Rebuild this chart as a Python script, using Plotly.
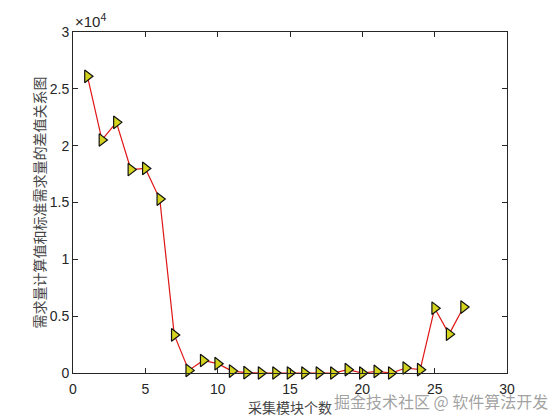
import plotly.graph_objects as go

modules = list(range(1, 28))
diff_values = [26100, 20500, 22050, 17900, 18000, 15300, 3350, 230, 1100, 820,
               170, 30, 0, 0, 0, 0, 0, 0, 290, 0, 140, 0, 440, 290, 5700, 3420, 5800]

x_ticks = [0, 5, 10, 15, 20, 25, 30]
y_tickvals = [0, 5000, 10000, 15000, 20000, 25000, 30000]
y_ticktext = ["0", "0.5", "1", "1.5", "2", "2.5", "3"]

x_label = "采集模块个数"
y_label = "需求量计算值和标准需求量的差值关系图"
watermark = "掘金技术社区 @ 软件算法开发"

fig = go.Figure()
fig.add_trace(go.Scatter(
    x=modules, y=diff_values, mode="lines+markers",
    line=dict(color="#E01515", width=1.2),
    marker=dict(symbol="triangle-right", size=11, color="#D4D41E",
                line=dict(color="#111111", width=1.2)),
    showlegend=False, cliponaxis=False,
))

axis_common = dict(
    showline=True, linecolor="#262626", linewidth=1, mirror="ticks",
    ticks="inside", ticklen=5, tickcolor="#262626", showgrid=False, zeroline=False,
    tickfont=dict(family="Liberation Sans, Arial", size=14, color="#262626"),
)

W, H = 560, 420
ML, MR, MT, MB = 73, 53, 32, 47

fig.update_layout(
    width=W, height=H,
    margin=dict(l=ML, r=MR, t=MT, b=MB, autoexpand=False),
    paper_bgcolor="white", plot_bgcolor="white",
    xaxis=dict(range=[0, 30], tickvals=x_ticks, ticklabelstandoff=3, **axis_common,
               title=dict(text=x_label, standoff=3,
                          font=dict(family="Noto Sans CJK SC", size=14, color="#444444"))),
    yaxis=dict(range=[0, 30000], tickvals=y_tickvals, ticktext=y_ticktext, **axis_common,
               title=dict(text=y_label, standoff=0,
                          font=dict(family="Noto Sans CJK SC", size=14, color="#444444"))),
    annotations=[
        dict(text="×10<sup>4</sup>", x=0, y=1, xref="paper", yref="paper",
             xanchor="left", yanchor="bottom", showarrow=False, yshift=0,
             font=dict(family="Liberation Sans, Arial", size=15, color="#262626")),
        dict(text=watermark,
             x=(441 - ML) / (W - ML - MR), y=(H - MB - 401) / (H - MT - MB),
             xref="paper", yref="paper", xanchor="center", yanchor="middle", showarrow=False,
             font=dict(family="Noto Sans CJK SC", size=16, color="rgba(120,120,120,0.7)")),
    ],
)

fig.write_html("out.html", config={"displayModeBar": False},
               post_script="document.body.style.margin='0';document.body.style.padding='0';")
